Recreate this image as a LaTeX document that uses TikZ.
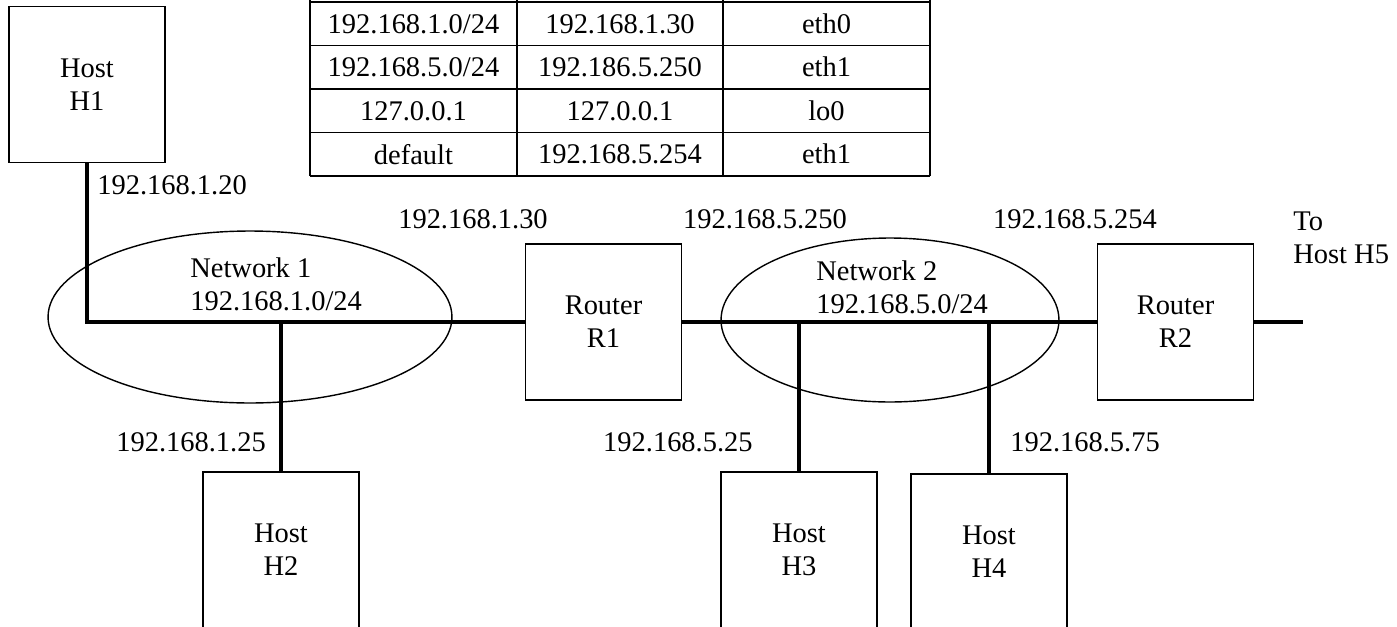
\documentclass[tikz,border=0pt]{standalone}
\usepackage{fontspec}
\setmainfont{Liberation Serif}
\usetikzlibrary{shapes.geometric,positioning}

\tikzset{
  hostbox/.style={draw, line width=1.1pt, minimum width=3.12cm, minimum height=3.12cm, align=center, inner sep=0pt},
  netarea/.style={ellipse, draw, line width=0.8pt, inner sep=0pt},
  link/.style={line width=2.2pt},
  tabline/.style={line width=1.1pt},
  iplabel/.style={inner sep=0pt}
}

\begin{document}
\begin{tikzpicture}[x=0.02cm, y=-0.02cm,
    every node/.style={font=\fontsize{16.2}{18.8}\selectfont}]
  \clip (0,0) rectangle (1397,626);

  % routing table (header row cut off at the top)
  \foreach \y in {2,45.5,89,132.5,176} {
    \draw[tabline] (310,\y) -- (930,\y);
  }
  \foreach \x in {310,517,723,930} {
    \draw[tabline] (\x,-10) -- (\x,176);
  }
  \node (dst1) at (413.5,23.75) {192.168.1.0/24};
  \node (gw1)  at (620,23.75)   {192.168.1.30};
  \node (if1)  at (826.5,23.75) {eth0};
  \node (dst2) at (413.5,67.25) {192.168.5.0/24};
  \node (gw2)  at (620,67.25)   {192.186.5.250};
  \node (if2)  at (826.5,67.25) {eth1};
  \node (dst3) at (413.5,110.75) {127.0.0.1};
  \node (gw3)  at (620,110.75)   {127.0.0.1};
  \node (if3)  at (826.5,110.75) {lo0};
  \node (dst4) at (413.5,154.25) {default};
  \node (gw4)  at (620,154.25)   {192.168.5.254};
  \node (if4)  at (826.5,154.25) {eth1};

  % networks
  \node[netarea, minimum width=8.08cm, minimum height=3.44cm] (net1) at (250,317) {};
  \node[netarea, minimum width=6.76cm, minimum height=3.28cm] (net2) at (890,320) {};
  \node[anchor=west, align=left, inner sep=0pt] (net1txt) at (190,284) {Network 1\\192.168.1.0/24};
  \node[anchor=west, align=left, inner sep=0pt] (net2txt) at (816,287) {Network 2\\192.168.5.0/24};

  % hosts and routers
  \node[hostbox] (h1) at (87,84.5) {Host\\H1};
  \node[hostbox] (r1) at (603.5,322) {Router\\R1};
  \node[hostbox] (r2) at (1175.5,322) {Router\\R2};
  \node[hostbox] (h2) at (281,550) {Host\\H2};
  \node[hostbox] (h3) at (799,550) {Host\\H3};
  \node[hostbox] (h4) at (989,552) {Host\\H4};
  \coordinate (toh5) at (1303,322);

  % cabling
  \draw[link] (h1.south) |- (r1.west);
  \draw[link] (r1.east) -- (r2.west);
  \draw[link] (r2.east) -- (toh5);
  \draw[link] (h2.north) -- (h2.north |- r1.west);
  \draw[link] (h3.north) -- (h3.north |- r1.west);
  \draw[link] (h4.north) -- (h4.north |- r1.west);

  % addresses
  \node[iplabel, anchor=west] (ip1) at (97,185) {192.168.1.20};
  \node[iplabel, anchor=west] (ip2) at (116,442) {192.168.1.25};
  \node[iplabel] (ip3) at (473,219) {192.168.1.30};
  \node[iplabel] (ip4) at (765,219) {192.168.5.250};
  \node[iplabel] (ip5) at (1075,219) {192.168.5.254};
  \node[iplabel, anchor=east] (ip6) at (753,442) {192.168.5.25};
  \node[iplabel, anchor=west] (ip7) at (1010,442) {192.168.5.75};
  \node[iplabel, anchor=west, align=left] (h5txt) at (1293,238) {To\\Host H5};
\end{tikzpicture}
\end{document}
